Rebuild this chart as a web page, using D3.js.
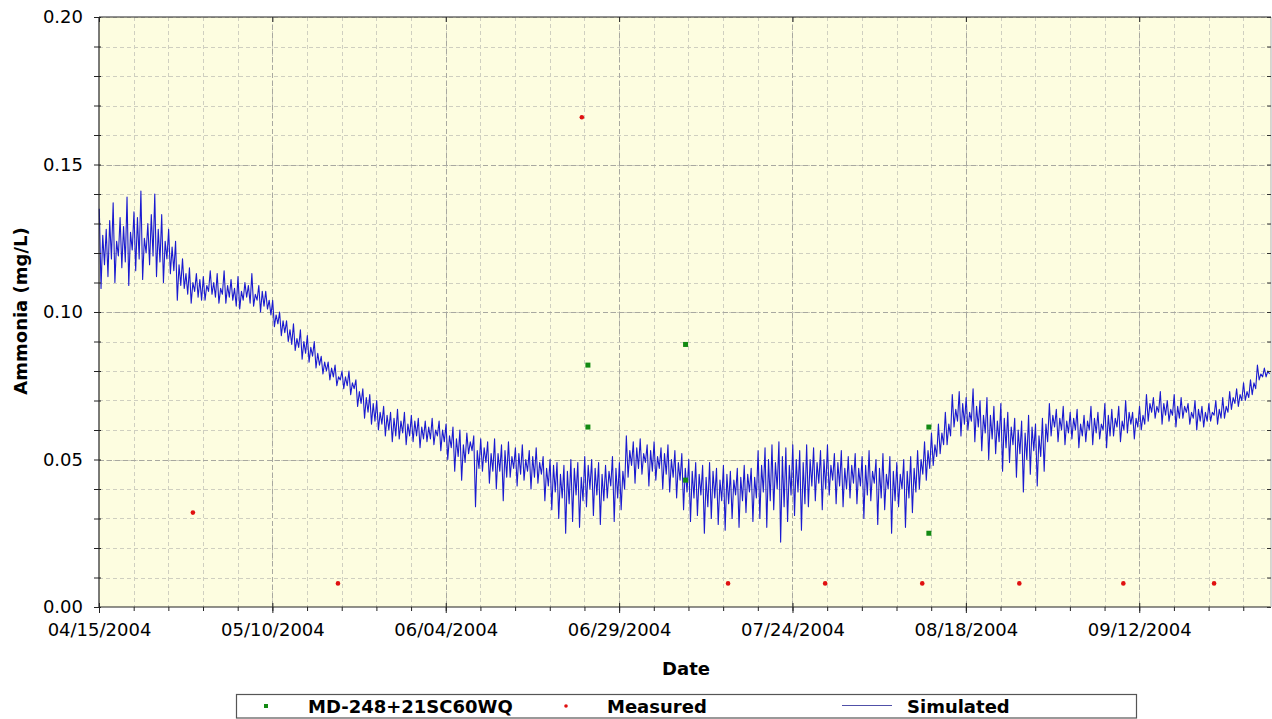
<!DOCTYPE html>
<html>
<head>
<meta charset="utf-8">
<script src="https://cdn.jsdelivr.net/npm/d3@7"></script>
<style>
  html, body { margin: 0; padding: 0; background: #ffffff; }
  svg { display: block; font-family: "DejaVu Sans", Verdana, sans-serif; }
</style>
</head>
<body>
<svg id="chart" width="1272" height="719"></svg>
<script>
// ---------------- DATA ----------------
const startDate = "2004-04-15";
const endDate = "2004-10-01";

const xTickLabels = ["04/15/2004", "05/10/2004", "06/04/2004", "06/29/2004", "07/24/2004", "08/18/2004", "09/12/2004"];
const yTickValues = [0.00, 0.05, 0.10, 0.15, 0.20];

// Measured (red)
const measuredDates = ["2004-04-28T13:00", "2004-05-19T11:00", "2004-06-23T15:00", "2004-07-14T17:00", "2004-07-28T17:00",
                       "2004-08-11T17:00", "2004-08-25T17:00", "2004-09-09T17:00", "2004-09-22T19:00"];
const measuredValues = [0.032, 0.008, 0.166, 0.008, 0.008, 0.008, 0.008, 0.008, 0.008];

// MD-248+21SC60WQ (green)
const stationDates = ["2004-06-24T12:00", "2004-06-24T12:00", "2004-07-08T14:00", "2004-07-08T14:00", "2004-08-12T16:00", "2004-08-12T16:00"];
const stationValues = [0.082, 0.061, 0.089, 0.043, 0.061, 0.025];

// Simulated: per day from 04/15/2004 -> main high, main low, secondary high, secondary low
const simHigh = [
  0.135, 0.128, 0.137, 0.132, 0.139, 0.134, 0.141, 0.130, 0.140, 0.133, 0.128,
  0.124, 0.118, 0.115, 0.113, 0.112, 0.114, 0.113,
  0.114, 0.111, 0.112, 0.110, 0.113, 0.109, 0.107,
  0.104, 0.100, 0.097, 0.096, 0.094, 0.092,
  0.090, 0.085, 0.083, 0.082, 0.080, 0.080,
  0.077, 0.074, 0.072, 0.070, 0.068, 0.066,
  0.067, 0.066, 0.065, 0.064, 0.063, 0.064, 0.063,
  0.062, 0.061, 0.060, 0.059, 0.058, 0.057, 0.056,
  0.057, 0.055, 0.056, 0.054, 0.055, 0.053, 0.054,
  0.051, 0.050, 0.049, 0.048, 0.050, 0.049, 0.051,
  0.050, 0.049, 0.048, 0.051, 0.049,
  0.058, 0.056, 0.057, 0.055, 0.056, 0.054, 0.055, 0.053,
  0.052, 0.050, 0.049, 0.048, 0.049, 0.047, 0.048, 0.046, 0.047, 0.048, 0.047,
  0.053, 0.054, 0.055, 0.056, 0.054, 0.055, 0.053, 0.055,
  0.054, 0.053, 0.055, 0.052, 0.053, 0.051,
  0.052, 0.051, 0.053, 0.050, 0.052, 0.051, 0.049, 0.050, 0.051,
  0.053, 0.056, 0.059, 0.062, 0.066,
  0.072, 0.073, 0.071, 0.074, 0.070,
  0.071, 0.068, 0.069, 0.066,
  0.064, 0.063, 0.065, 0.062, 0.064,
  0.069, 0.067, 0.068, 0.066, 0.067, 0.065, 0.068, 0.066, 0.069, 0.067, 0.068, 0.070, 0.066, 0.068,
  0.072, 0.071, 0.073, 0.070, 0.072, 0.071, 0.069, 0.070, 0.068, 0.069, 0.070, 0.071,
  0.073, 0.074, 0.076, 0.077, 0.082, 0.081
];
const simLow = [
  0.108, 0.112, 0.110, 0.115, 0.109, 0.114, 0.111, 0.116, 0.112, 0.110, 0.113,
  0.104, 0.108, 0.103, 0.105, 0.104, 0.106, 0.103,
  0.103, 0.104, 0.101, 0.105, 0.102, 0.100, 0.101,
  0.095, 0.092, 0.090, 0.087, 0.084, 0.083,
  0.081, 0.079, 0.077, 0.075, 0.074, 0.072,
  0.068, 0.064, 0.062, 0.060, 0.058, 0.056,
  0.057, 0.055, 0.056, 0.054, 0.056, 0.055, 0.053,
  0.050, 0.046, 0.043, 0.052, 0.034, 0.046, 0.042,
  0.040, 0.036, 0.044, 0.041, 0.043, 0.040, 0.042,
  0.036, 0.033, 0.030, 0.025, 0.029, 0.027, 0.034,
  0.031, 0.028, 0.037, 0.029, 0.033,
  0.044, 0.042, 0.045, 0.041, 0.043, 0.040, 0.039, 0.037,
  0.033, 0.029, 0.031, 0.025, 0.030, 0.028, 0.026, 0.030, 0.027, 0.032, 0.029,
  0.030, 0.027, 0.033, 0.022, 0.029, 0.031, 0.026, 0.034,
  0.036, 0.033, 0.038, 0.035, 0.034, 0.037,
  0.035, 0.030, 0.036, 0.028, 0.033, 0.025, 0.034, 0.027, 0.032,
  0.040, 0.043, 0.048, 0.052, 0.055,
  0.061, 0.058, 0.060, 0.056, 0.053,
  0.050, 0.052, 0.046, 0.049,
  0.044, 0.039, 0.045, 0.041, 0.046,
  0.058, 0.056, 0.055, 0.057, 0.054, 0.056, 0.055, 0.057, 0.054, 0.058, 0.056, 0.059, 0.057, 0.060,
  0.063, 0.064, 0.062, 0.063, 0.061, 0.064, 0.062, 0.060, 0.061, 0.063, 0.062, 0.064,
  0.067, 0.068, 0.070, 0.072, 0.077, 0.078
];
const simHigh2 = [
  0.126, 0.131, 0.124, 0.129, 0.127, 0.132, 0.125, 0.133, 0.128, 0.124, 0.122,
  0.116, 0.113, 0.110, 0.111, 0.109, 0.110, 0.108,
  0.109, 0.108, 0.107, 0.109, 0.106, 0.107, 0.104,
  0.099, 0.097, 0.094, 0.091, 0.090, 0.088,
  0.086, 0.083, 0.081, 0.078, 0.078, 0.076,
  0.073, 0.071, 0.069, 0.066, 0.065, 0.064,
  0.063, 0.062, 0.063, 0.061, 0.061, 0.060, 0.060,
  0.058, 0.057, 0.055, 0.056, 0.053, 0.054, 0.052,
  0.052, 0.053, 0.051, 0.052, 0.050, 0.051, 0.049,
  0.047, 0.048, 0.045, 0.046, 0.047, 0.044, 0.048,
  0.047, 0.045, 0.046, 0.047, 0.046,
  0.053, 0.054, 0.052, 0.053, 0.051, 0.052, 0.050, 0.049,
  0.047, 0.046, 0.045, 0.044, 0.046, 0.043, 0.045, 0.043, 0.044, 0.045, 0.044,
  0.048, 0.050, 0.049, 0.051, 0.048, 0.050, 0.049, 0.050,
  0.049, 0.050, 0.048, 0.049, 0.047, 0.048,
  0.047, 0.048, 0.046, 0.047, 0.045, 0.046, 0.045, 0.046, 0.047,
  0.050, 0.053, 0.055, 0.059, 0.062,
  0.067, 0.069, 0.066, 0.068, 0.065,
  0.065, 0.063, 0.064, 0.061,
  0.060, 0.059, 0.061, 0.058, 0.062,
  0.065, 0.064, 0.063, 0.064, 0.062, 0.063, 0.064, 0.062, 0.065, 0.064, 0.063, 0.066, 0.064, 0.065,
  0.069, 0.068, 0.069, 0.067, 0.068, 0.068, 0.066, 0.067, 0.066, 0.066, 0.067, 0.068,
  0.071, 0.072, 0.073, 0.076, 0.079, 0.080
];
const simLow2 = [
  0.116, 0.118, 0.119, 0.117, 0.121, 0.118, 0.120, 0.119, 0.117, 0.118, 0.114,
  0.109, 0.106, 0.107, 0.104, 0.107, 0.105, 0.106,
  0.105, 0.102, 0.104, 0.103, 0.104, 0.102, 0.099,
  0.096, 0.093, 0.089, 0.088, 0.086, 0.085,
  0.082, 0.080, 0.078, 0.077, 0.075, 0.074,
  0.069, 0.066, 0.063, 0.062, 0.060, 0.058,
  0.059, 0.058, 0.058, 0.057, 0.057, 0.058, 0.056,
  0.054, 0.051, 0.049, 0.053, 0.047, 0.049, 0.046,
  0.046, 0.044, 0.047, 0.045, 0.046, 0.044, 0.045,
  0.041, 0.039, 0.037, 0.035, 0.038, 0.036, 0.040,
  0.038, 0.036, 0.041, 0.037, 0.040,
  0.048, 0.047, 0.049, 0.046, 0.047, 0.045, 0.044, 0.043,
  0.039, 0.037, 0.038, 0.034, 0.037, 0.036, 0.035, 0.038, 0.036, 0.039, 0.037,
  0.039, 0.036, 0.040, 0.034, 0.038, 0.039, 0.035, 0.041,
  0.042, 0.040, 0.043, 0.041, 0.040, 0.042,
  0.041, 0.038, 0.042, 0.037, 0.040, 0.036, 0.040, 0.037, 0.039,
  0.045, 0.047, 0.051, 0.055, 0.058,
  0.063, 0.062, 0.063, 0.061, 0.059,
  0.057, 0.056, 0.054, 0.055,
  0.052, 0.050, 0.053, 0.051, 0.056,
  0.061, 0.060, 0.059, 0.060, 0.058, 0.060, 0.059, 0.060, 0.058, 0.061, 0.060, 0.062, 0.061, 0.062,
  0.066, 0.066, 0.065, 0.065, 0.064, 0.066, 0.064, 0.063, 0.063, 0.065, 0.064, 0.066,
  0.069, 0.070, 0.071, 0.074, 0.078, 0.079
];

const legendLabels = ["MD-248+21SC60WQ", "Measured", "Simulated"];

// ---------------- CHART ----------------
const svg = d3.select("#chart");
const m = { left: 99, right: 1271, top: 17, bottom: 607 };

const parseDate = d3.utcParse("%Y-%m-%d");
const parseDT = d3.utcParse("%Y-%m-%dT%H:%M");
const parseLabel = d3.utcParse("%m/%d/%Y");
const t0 = parseDate(startDate), t1 = parseDate(endDate);

const x = d3.scaleUtc().domain([t0, t1]).range([m.left, m.right]);
const y = d3.scaleLinear().domain([0, 0.20]).range([m.bottom, m.top]);

// plot background
svg.append("rect").attr("x", m.left).attr("y", m.top)
  .attr("width", m.right - m.left).attr("height", m.bottom - m.top)
  .attr("fill", "#fdfde0");

const majorDates = xTickLabels.map(parseLabel);
const minorDates = d3.range(0, d3.utcDay.count(t0, t1) + 1, 5).map(d => d3.utcDay.offset(t0, d));
const minorY = d3.range(0, 21).map(i => i / 100);

const grid = svg.append("g");
grid.selectAll(".vmin").data(minorDates.filter(d => d > t0)).enter().append("line")
  .attr("x1", d => Math.round(x(d)) + 0.5).attr("x2", d => Math.round(x(d)) + 0.5)
  .attr("y1", m.top).attr("y2", m.bottom)
  .attr("stroke", "#cfcfc0").attr("stroke-width", 1).attr("stroke-dasharray", "4,3");
grid.selectAll(".hmin").data(minorY.filter(v => v > 0)).enter().append("line")
  .attr("y1", d => Math.round(y(d)) + 0.5).attr("y2", d => Math.round(y(d)) + 0.5)
  .attr("x1", m.left).attr("x2", m.right)
  .attr("stroke", "#cfcfc0").attr("stroke-width", 1).attr("stroke-dasharray", "4,3");
grid.selectAll(".vmaj").data(majorDates.filter(d => d > t0)).enter().append("line")
  .attr("x1", d => Math.round(x(d)) + 0.5).attr("x2", d => Math.round(x(d)) + 0.5)
  .attr("y1", m.top).attr("y2", m.bottom)
  .attr("stroke", "#a8a8a0").attr("stroke-width", 1).attr("stroke-dasharray", "5,3");
grid.selectAll(".hmaj").data(yTickValues.filter(v => v > 0 && v < 0.2)).enter().append("line")
  .attr("y1", d => Math.round(y(d)) + 0.5).attr("y2", d => Math.round(y(d)) + 0.5)
  .attr("x1", m.left).attr("x2", m.right)
  .attr("stroke", "#a8a8a0").attr("stroke-width", 1).attr("stroke-dasharray", "5,3");

// simulated series
const simData = [];
simHigh.forEach((h, i) => {
  simData.push({ t: d3.utcHour.offset(t0, i * 24 + 1), v: h });
  simData.push({ t: d3.utcHour.offset(t0, i * 24 + 7), v: simLow[i] });
  simData.push({ t: d3.utcHour.offset(t0, i * 24 + 13), v: simHigh2[i] });
  simData.push({ t: d3.utcHour.offset(t0, i * 24 + 19), v: simLow2[i] });
});
const line = d3.line().x(d => x(d.t)).y(d => y(d.v));
svg.append("path").datum(simData)
  .attr("d", line).attr("fill", "none")
  .attr("stroke", "#1a1ad0").attr("stroke-width", 1.1).attr("stroke-linejoin", "round");

// station points (green squares)
svg.selectAll(".sta").data(stationDates.map((d, i) => ({ t: parseDT(d), v: stationValues[i] })))
  .enter().append("rect")
  .attr("x", d => x(d.t) - 2.5).attr("y", d => y(d.v) - 2.5)
  .attr("width", 5).attr("height", 5).attr("fill", "#138a13");

// measured points (red dots)
svg.selectAll(".mea").data(measuredDates.map((d, i) => ({ t: parseDT(d), v: measuredValues[i] })))
  .enter().append("circle")
  .attr("cx", d => x(d.t)).attr("cy", d => y(d.v)).attr("r", 2.3).attr("fill", "#e01010");

// axes frame
const frame = svg.append("g").attr("stroke", "#222").attr("stroke-width", 1.2);
frame.append("line").attr("x1", m.left).attr("x2", m.left).attr("y1", m.top).attr("y2", m.bottom + 0.5);
frame.append("line").attr("x1", m.left).attr("x2", m.right).attr("y1", m.bottom).attr("y2", m.bottom);
frame.append("line").attr("x1", m.left).attr("x2", m.right).attr("y1", m.top).attr("y2", m.top);
frame.append("line").attr("x1", m.right).attr("x2", m.right).attr("y1", m.top).attr("y2", m.bottom).attr("stroke", "#bbb");

// left axis
const yAxisG = svg.append("g").attr("transform", `translate(${m.left},0)`);
yAxisG.call(d3.axisLeft(y).tickValues(minorY).tickSize(5).tickFormat(""))
  .call(g => g.select(".domain").remove())
  .call(g => g.selectAll(".tick line").attr("stroke", "#222").attr("x2", -5).attr("x1", 2));
yAxisG.append("g").call(d3.axisLeft(y).tickValues(yTickValues).tickSize(0).tickPadding(16).tickFormat(d3.format(".2f")))
  .call(g => g.select(".domain").remove())
  .call(g => g.selectAll("text").attr("font-size", 18).attr("fill", "#000").attr("font-family", "DejaVu Sans"));
// right axis small ticks
svg.append("g").attr("transform", `translate(${m.right},0)`)
  .call(d3.axisRight(y).tickValues(minorY).tickSize(-4).tickFormat(""))
  .call(g => g.select(".domain").remove())
  .call(g => g.selectAll(".tick line").attr("stroke", "#333"));

// bottom axis
const xAxisG = svg.append("g").attr("transform", `translate(0,${m.bottom})`);
xAxisG.call(d3.axisBottom(x).tickValues(minorDates).tickSize(4).tickFormat(""))
  .call(g => g.select(".domain").remove())
  .call(g => g.selectAll(".tick line").attr("stroke", "#222"));
xAxisG.append("g").call(d3.axisBottom(x).tickValues(majorDates).tickSize(6).tickPadding(10)
    .tickFormat((d, i) => xTickLabels[i]))
  .call(g => g.select(".domain").remove())
  .call(g => g.selectAll(".tick line").attr("stroke", "#222").attr("y1", -4))
  .call(g => g.selectAll("text").attr("font-size", 18).attr("fill", "#000").attr("font-family", "DejaVu Sans"));
// top axis ticks
svg.append("g").attr("transform", `translate(0,${m.top})`)
  .call(d3.axisTop(x).tickValues(majorDates).tickSize(-5).tickFormat(""))
  .call(g => g.select(".domain").remove())
  .call(g => g.selectAll(".tick line").attr("stroke", "#222"));

// axis titles
svg.append("text").attr("x", (m.left + m.right) / 2 + 1).attr("y", 675)
  .attr("text-anchor", "middle").attr("font-weight", "bold").attr("font-size", 18).text("Date");
svg.append("text").attr("transform", `translate(27,311) rotate(-90)`)
  .attr("text-anchor", "middle").attr("font-weight", "bold").attr("font-size", 18).text("Ammonia (mg/L)");

// legend
const lg = svg.append("g");
lg.append("rect").attr("x", 236.5).attr("y", 694.5).attr("width", 900).attr("height", 23.5)
  .attr("fill", "#fff").attr("stroke", "#555").attr("stroke-width", 1.2);
lg.append("rect").attr("x", 264).attr("y", 704).attr("width", 4).attr("height", 4).attr("fill", "#138a13");
lg.append("text").attr("x", 308).attr("y", 713).attr("font-weight", "bold").attr("font-size", 18).text(legendLabels[0]);
lg.append("circle").attr("cx", 566).attr("cy", 706).attr("r", 1.8).attr("fill", "#e01010");
lg.append("text").attr("x", 607).attr("y", 713).attr("font-weight", "bold").attr("font-size", 18).text(legendLabels[1]);
lg.append("line").attr("x1", 842).attr("x2", 892).attr("y1", 705.5).attr("y2", 705.5)
  .attr("stroke", "#5050a8").attr("stroke-width", 1.2);
lg.append("text").attr("x", 907).attr("y", 713).attr("font-weight", "bold").attr("font-size", 18).text(legendLabels[2]);
</script>
</body>
</html>
